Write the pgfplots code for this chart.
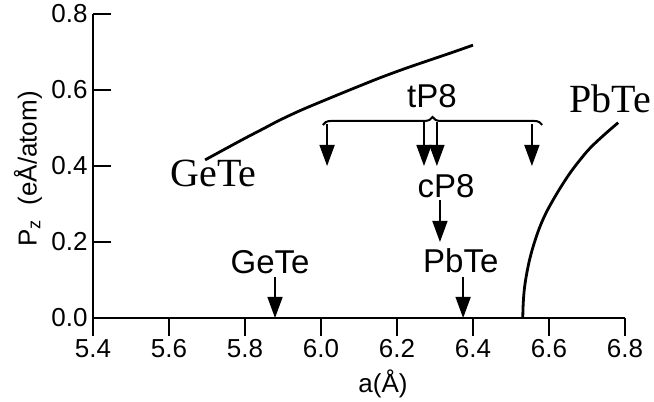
\documentclass[border=0pt]{standalone}
\usepackage{pgfplots}
\pgfplotsset{compat=1.18}
\usepackage{fontspec}
\setmainfont{Liberation Sans}
\newfontfamily\serif{Liberation Serif}
\usetikzlibrary{arrows.meta,decorations.pathreplacing}

\begin{document}
\begin{tikzpicture}[
    arr/.style={line width=1.5pt,-{Triangle[length=21pt,width=15pt]}},
    big/.style={font=\fontsize{33}{38}\selectfont, inner sep=0pt, anchor=base},
    bigserif/.style={font=\fontsize{40}{46}\selectfont\serif, inner sep=0pt, anchor=base},
  ]
  \begin{axis}[
      name=ax,
      scale only axis,
      width=532pt, height=304pt,
      xmin=5.4, xmax=6.8,
      ymin=0, ymax=0.8,
      axis x line*=bottom,
      axis y line*=left,
      axis line style={line width=1.2pt},
      xtick={5.4,5.6,...,6.8},
      ytick={0,0.2,...,0.8},
      tick align=inside,
      major tick length=18pt,
      tick style={line width=1.2pt, black},
      xtick style={yshift=-18pt},
      /pgf/number format/assume math mode=true,
      /pgf/number format/fixed,
      /pgf/number format/fixed zerofill,
      /pgf/number format/precision=1,
      tick label style={font=\fontsize{26}{30}\selectfont},
      every x tick label/.append style={yshift=-18pt},
      every y tick label/.append style={xshift=-2pt},
      xlabel={a(Å)},
      ylabel={P\textsubscript{z}~~(eÅ/atom)},
      every axis x label/.style={at={(axis description cs:0,0)}, xshift=290pt, yshift=-66pt, anchor=center, font=\fontsize{26}{30}\selectfont},
      every axis y label/.style={at={(axis description cs:0,0.5)}, xshift=-65pt, yshift=-3pt, rotate=90, anchor=center, font=\fontsize{26}{30}\selectfont},
      clip=false,
    ]
    % GeTe branch
    \addplot[line width=2.8pt, smooth, tension=0.5] coordinates {
      (5.695,0.416) (5.75,0.446) (5.80,0.473) (5.85,0.499) (5.892,0.521)
      (5.95,0.548) (6.024,0.579) (6.09,0.606) (6.155,0.632) (6.22,0.656)
      (6.287,0.679) (6.34,0.697) (6.400,0.718)
    };
    % PbTe branch
    \addplot[line width=2.8pt, smooth, tension=0.6] coordinates {
      (6.531,0.0) (6.532,0.035) (6.535,0.075) (6.541,0.115) (6.550,0.158)
      (6.562,0.200) (6.576,0.240) (6.592,0.276) (6.611,0.311) (6.632,0.346)
      (6.655,0.381) (6.680,0.414) (6.708,0.447) (6.744,0.481) (6.782,0.514)
    };

    % tP8 brace and arrows
    \draw[line width=2pt, decorate, decoration={brace, amplitude=8pt}]
      (axis cs:6.005,0.508) -- (axis cs:6.582,0.508);
    \draw[arr] (axis cs:6.016,0.51) -- (axis cs:6.016,0.40);
    \draw[arr] (axis cs:6.271,0.515) -- (axis cs:6.271,0.40);
    \draw[arr] (axis cs:6.305,0.515) -- (axis cs:6.305,0.40);
    \draw[arr] (axis cs:6.555,0.51) -- (axis cs:6.555,0.40);
    \node[big] at (axis cs:6.292,0.555) {tP8};

    % cP8
    \node[big] at (axis cs:6.329,0.318) {cP8};
    \draw[arr] (axis cs:6.313,0.311) -- (axis cs:6.313,0.20);

    % experimental lattice constants
    \node[big] at (axis cs:5.866,0.116) {GeTe};
    \draw[arr] (axis cs:5.879,0.108) -- (axis cs:5.879,0.0);
    \node[big] at (axis cs:6.368,0.121) {PbTe};
    \draw[arr] (axis cs:6.374,0.108) -- (axis cs:6.374,0.0);

    % branch labels
    \node[bigserif] at (axis cs:5.717,0.347) {GeTe};
    \node[bigserif] at (axis cs:6.761,0.542) {PbTe};
  \end{axis}
  \pgfresetboundingbox
  \path[use as bounding box] ([shift={(-93pt,-84pt)}]ax.south west) rectangle ([shift={(29pt,14pt)}]ax.north east);
\end{tikzpicture}
\end{document}
